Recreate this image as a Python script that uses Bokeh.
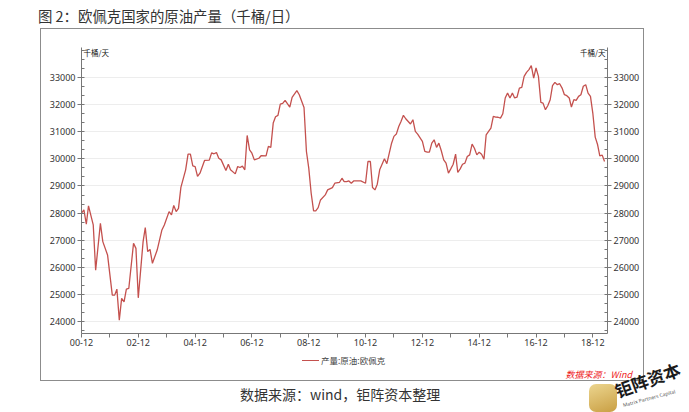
from datetime import datetime
from bokeh.plotting import figure
from bokeh.layouts import column
from bokeh.models import (Range1d, LinearAxis, FixedTicker, DatetimeTickFormatter, Label,
                          ColumnDataSource, Div)
from bokeh.embed import file_html
from bokeh.resources import INLINE

# ---------------- data ----------------
months = [
    "2000-12", "2001-01", "2001-02", "2001-03", "2001-05", "2001-06", "2001-08", "2001-09", "2001-11",
    "2002-01", "2002-02", "2002-03", "2002-04", "2002-05", "2002-06", "2002-07", "2002-08", "2002-10",
    "2002-11", "2002-12", "2003-02", "2003-03", "2003-04", "2003-05", "2003-06", "2003-08", "2003-10",
    "2003-11", "2004-01", "2004-02", "2004-03", "2004-04", "2004-05", "2004-06", "2004-08", "2004-09",
    "2004-10", "2004-11", "2004-12", "2005-01", "2005-02", "2005-04", "2005-06", "2005-07", "2005-08",
    "2005-09", "2005-10", "2005-11", "2006-01", "2006-02", "2006-03", "2006-05", "2006-06", "2006-07",
    "2006-08", "2006-09", "2006-10", "2006-11", "2006-12", "2007-01", "2007-03", "2007-04", "2007-06",
    "2007-07", "2007-08", "2007-09", "2007-10", "2007-11", "2007-12", "2008-01", "2008-02", "2008-04",
    "2008-05", "2008-07", "2008-08", "2008-10", "2008-11", "2008-12", "2009-01", "2009-02", "2009-03",
    "2009-04", "2009-05", "2009-07", "2009-08", "2009-10", "2009-11", "2010-01", "2010-02", "2010-03",
    "2010-04", "2010-05", "2010-06", "2010-07", "2010-09", "2010-10", "2010-12", "2011-01", "2011-02",
    "2011-03", "2011-04", "2011-05", "2011-06", "2011-08", "2011-09", "2011-11", "2011-12", "2012-01",
    "2012-02", "2012-03", "2012-04", "2012-05", "2012-07", "2012-08", "2012-09", "2012-10", "2012-12",
    "2013-01", "2013-02", "2013-03", "2013-04", "2013-05", "2013-06", "2013-07", "2013-08", "2013-09",
    "2013-10", "2013-11", "2013-12", "2014-01", "2014-02", "2014-03", "2014-04", "2014-05", "2014-06",
    "2014-07", "2014-08", "2014-09", "2014-10", "2014-11", "2014-12", "2015-01", "2015-02", "2015-03",
    "2015-04", "2015-05", "2015-06", "2015-07", "2015-08", "2015-09", "2015-10", "2015-11", "2015-12",
    "2016-01", "2016-02", "2016-03", "2016-04", "2016-05", "2016-06", "2016-07", "2016-08", "2016-09",
    "2016-10", "2016-11", "2016-12", "2017-01", "2017-02", "2017-03", "2017-04", "2017-05", "2017-06",
    "2017-07", "2017-08", "2017-09", "2017-10", "2017-11", "2017-12", "2018-01", "2018-02", "2018-03",
    "2018-04", "2018-05", "2018-06", "2018-07", "2018-08", "2018-09", "2018-10", "2018-11", "2018-12",
    "2019-01", "2019-02", "2019-03", "2019-04", "2019-05",
]
opec_output = [
    28000, 28120, 27590, 28265, 27565, 25900, 27620, 26950, 26460,
    24980, 24980, 25200, 24060, 24860, 24735, 25200, 25225, 26885,
    26700, 24880, 26950, 27465, 26580, 26665, 26150, 26640, 27380,
    27565, 28055, 27935, 28280, 28055, 28175, 28950, 29595, 30170,
    30170, 29740, 29715, 29350, 29470, 29940, 29950, 30220, 30185,
    30230, 30020, 29960, 29570, 29800, 29595, 29445, 29715, 29680,
    29730, 29595, 30860, 30330, 30205, 29960, 30020, 30120, 30110,
    30455, 30420, 31315, 31550, 31600, 32015, 32040, 32150, 31900,
    32260, 32510, 32360, 31890, 30270, 29655, 28730, 28080, 28080,
    28200, 28485, 28670, 28855, 28940, 29100, 29135, 29285, 29160,
    29160, 29185, 29100, 29185, 29185, 29185, 29100, 29900, 29900,
    28940, 28855, 29065, 29595, 30000, 29820, 30575, 30825, 30910,
    31190, 31375, 31600, 31475, 31280, 31440, 31010, 30910, 30640,
    30270, 30245, 30245, 30575, 30700, 30420, 30575, 30295, 29960,
    29840, 29470, 29630, 29800, 30170, 29495, 29630, 29800, 29840,
    30085, 30145, 30540, 30390, 30145, 30245, 30170, 29985, 30885,
    31010, 31130, 31560, 31535, 31530, 31500, 31660, 32240, 32420,
    32240, 32420, 32240, 32275, 32605, 32630, 33035, 33185, 33285,
    33430, 32975, 33345, 33035, 32080, 32050, 31810, 31955, 32175,
    32695, 32815, 32730, 32765, 32605, 32360, 32325, 32240, 31905,
    32175, 32150, 32300, 32360, 32670, 32730, 32420, 32300, 31685,
    30800, 30515, 30110, 30135, 29900,
]
x_major_months = ["2000-12", "2002-12", "2004-12", "2006-12", "2008-12",
                  "2010-12", "2012-12", "2014-12", "2016-12", "2018-12"]
x_minor_months = ["2001-12", "2003-12", "2005-12", "2007-12", "2009-12",
                  "2011-12", "2013-12", "2015-12", "2017-12"]
y_ticks = [24000, 25000, 26000, 27000, 28000, 29000, 30000, 31000, 32000, 33000]
series_name = "产量:原油:欧佩克"
unit_text = "千桶/天"
title_text = "图 2：欧佩克国家的原油产量（千桶/日）"
source_in_chart = "数据来源：Wind"
footer_text = "数据来源：wind，钜阵资本整理"
logo_text = "钜阵资本"
logo_sub = "Matrix Partners Capital"


def to_dt(s):
    y, m = s.split("-")
    return datetime(int(y), int(m), 1)


def to_ms(s):
    return (to_dt(s) - datetime(1970, 1, 1)).total_seconds() * 1000.0


CJK = "Noto Sans CJK SC"
NUM = "Noto Sans"
LINE_COLOR = "#c4514e"
BOX_COLOR = "#8c8c8c"
Y0, Y1 = 23566, 34099
X0, X1 = datetime(2000, 12, 1), datetime(2019, 6, 8)

# minor y ticks: three intervals per 1000
step = 1000.0 / 3
y_minor = []
t = y_ticks[0] - step
while t < Y1:
    if t > Y0:
        y_minor.append(t)
    t += step

src = ColumnDataSource(dict(date=[to_dt(m) for m in months], v=opec_output))

p = figure(width=604, height=324, output_backend="svg", toolbar_location=None,
           x_axis_type="datetime", x_range=Range1d(X0, X1), y_range=Range1d(Y0, Y1),
           min_border_left=40, min_border_right=38, min_border_top=18, min_border_bottom=20,
           margin=(0, 0, 0, 40))
p.styles = {"border-top": f"1px solid {BOX_COLOR}", "border-left": f"1px solid {BOX_COLOR}",
            "border-right": f"1px solid {BOX_COLOR}", "box-sizing": "border-box"}
p.outline_line_color = None
p.background_fill_color = "white"
p.border_fill_color = "white"

r = p.line("date", "v", source=src, line_color=LINE_COLOR, line_width=1.3)

p.xgrid.visible = False
p.ygrid.grid_line_color = "#ededed"
p.ygrid.grid_line_width = 1


def style_axis(ax, minor_in=3, minor_out=0):
    ax.axis_line_color = "#777777"
    ax.major_tick_line_color = "#777777"
    ax.minor_tick_line_color = "#777777"
    ax.major_tick_in = 0
    ax.major_tick_out = 4
    ax.minor_tick_in = minor_in
    ax.minor_tick_out = minor_out
    ax.major_label_text_font = NUM
    ax.major_label_text_font_size = "9px"
    ax.major_label_text_color = "#333333"
    ax.major_label_standoff = 2


xa = p.xaxis[0]
xa.ticker = FixedTicker(ticks=[to_ms(m) for m in x_major_months],
                        minor_ticks=[to_ms(m) for m in x_minor_months])
fmt = "%y-%m"
xa.formatter = DatetimeTickFormatter(years=fmt, months=fmt, days=fmt, hours=fmt,
                                     hourmin=fmt, minutes=fmt, minsec=fmt, seconds=fmt,
                                     milliseconds=fmt, microseconds=fmt)
style_axis(xa, minor_in=0, minor_out=4)
xa.major_label_standoff = 1

ya = p.yaxis[0]
ya.ticker = FixedTicker(ticks=y_ticks, minor_ticks=y_minor)
style_axis(ya)

yr = LinearAxis(ticker=FixedTicker(ticks=y_ticks, minor_ticks=y_minor))
style_axis(yr)
p.add_layout(yr, "right")

# unit labels at the top of both value axes
p.add_layout(Label(x=X0, y=33932, x_offset=2, text=unit_text, text_font=CJK,
                   text_font_size="7.5px", text_color="#111111",
                   text_baseline="middle", text_align="left"))
p.add_layout(Label(x=X1, y=33932, x_offset=-2, text=unit_text, text_font=CJK,
                   text_font_size="7.5px", text_color="#111111",
                   text_baseline="middle", text_align="right"))

title_div = Div(
    text=f'<div style="padding-left:38px;padding-top:8px;font-family:\'{CJK}\';font-size:14.4px;'
         f'line-height:16px;color:#333333;white-space:nowrap;">{title_text}</div>',
    width=680, height=28, margin=0)

legend_div = Div(
    text=(
        f'<div style="position:relative;width:604px;height:29px;box-sizing:border-box;'
        f'border-left:1px solid {BOX_COLOR};border-right:1px solid {BOX_COLOR};'
        f'border-bottom:1px solid {BOX_COLOR};">'
        f'<div style="position:absolute;left:261px;top:8px;width:17px;height:0;'
        f'border-top:1.3px solid {LINE_COLOR};"></div>'
        f'<div style="position:absolute;left:280px;top:3px;font-family:\'{CJK}\';font-size:8.5px;'
        f'line-height:11px;color:#444444;white-space:nowrap;">{series_name}</div>'
        f'<div style="position:absolute;right:11px;top:17px;font-family:\'{CJK}\';font-size:9px;'
        f'font-style:italic;line-height:12px;color:#ee1c1c;white-space:nowrap;">{source_in_chart}</div>'
        '</div>'),
    width=604, height=29, margin=(0, 0, 0, 40))

footer_div = Div(
    text=(
        '<div style="position:relative;width:680px;height:30px;">'
        f'<div style="position:absolute;left:240px;top:5px;font-family:\'{CJK}\';font-size:14px;'
        f'line-height:16px;color:#333333;white-space:nowrap;">{footer_text}</div>'
        '<div style="position:absolute;left:589px;top:3px;width:28px;height:28px;'
        'background:linear-gradient(160deg,#ecd58f,#c99f43);border-radius:7px;"></div>'
        f'<div style="position:absolute;left:619px;top:0px;font-family:\'{CJK}\';font-size:17px;'
        'font-weight:bold;color:#1a1a1a;white-space:nowrap;transform:rotate(-20deg);'
        f'transform-origin:left bottom;line-height:20px;">{logo_text}</div>'
        f'<div style="position:absolute;left:624px;top:21px;font-family:\'{NUM}\';font-size:5px;'
        'color:#555555;white-space:nowrap;transform:rotate(-15deg);'
        f'transform-origin:left bottom;line-height:7px;">{logo_sub}</div>'
        '</div>'),
    width=680, height=30, margin=0)

layout = column(title_div, p, legend_div, footer_div, spacing=0, margin=0)

open("out.html", "w").write(file_html(layout, INLINE))
